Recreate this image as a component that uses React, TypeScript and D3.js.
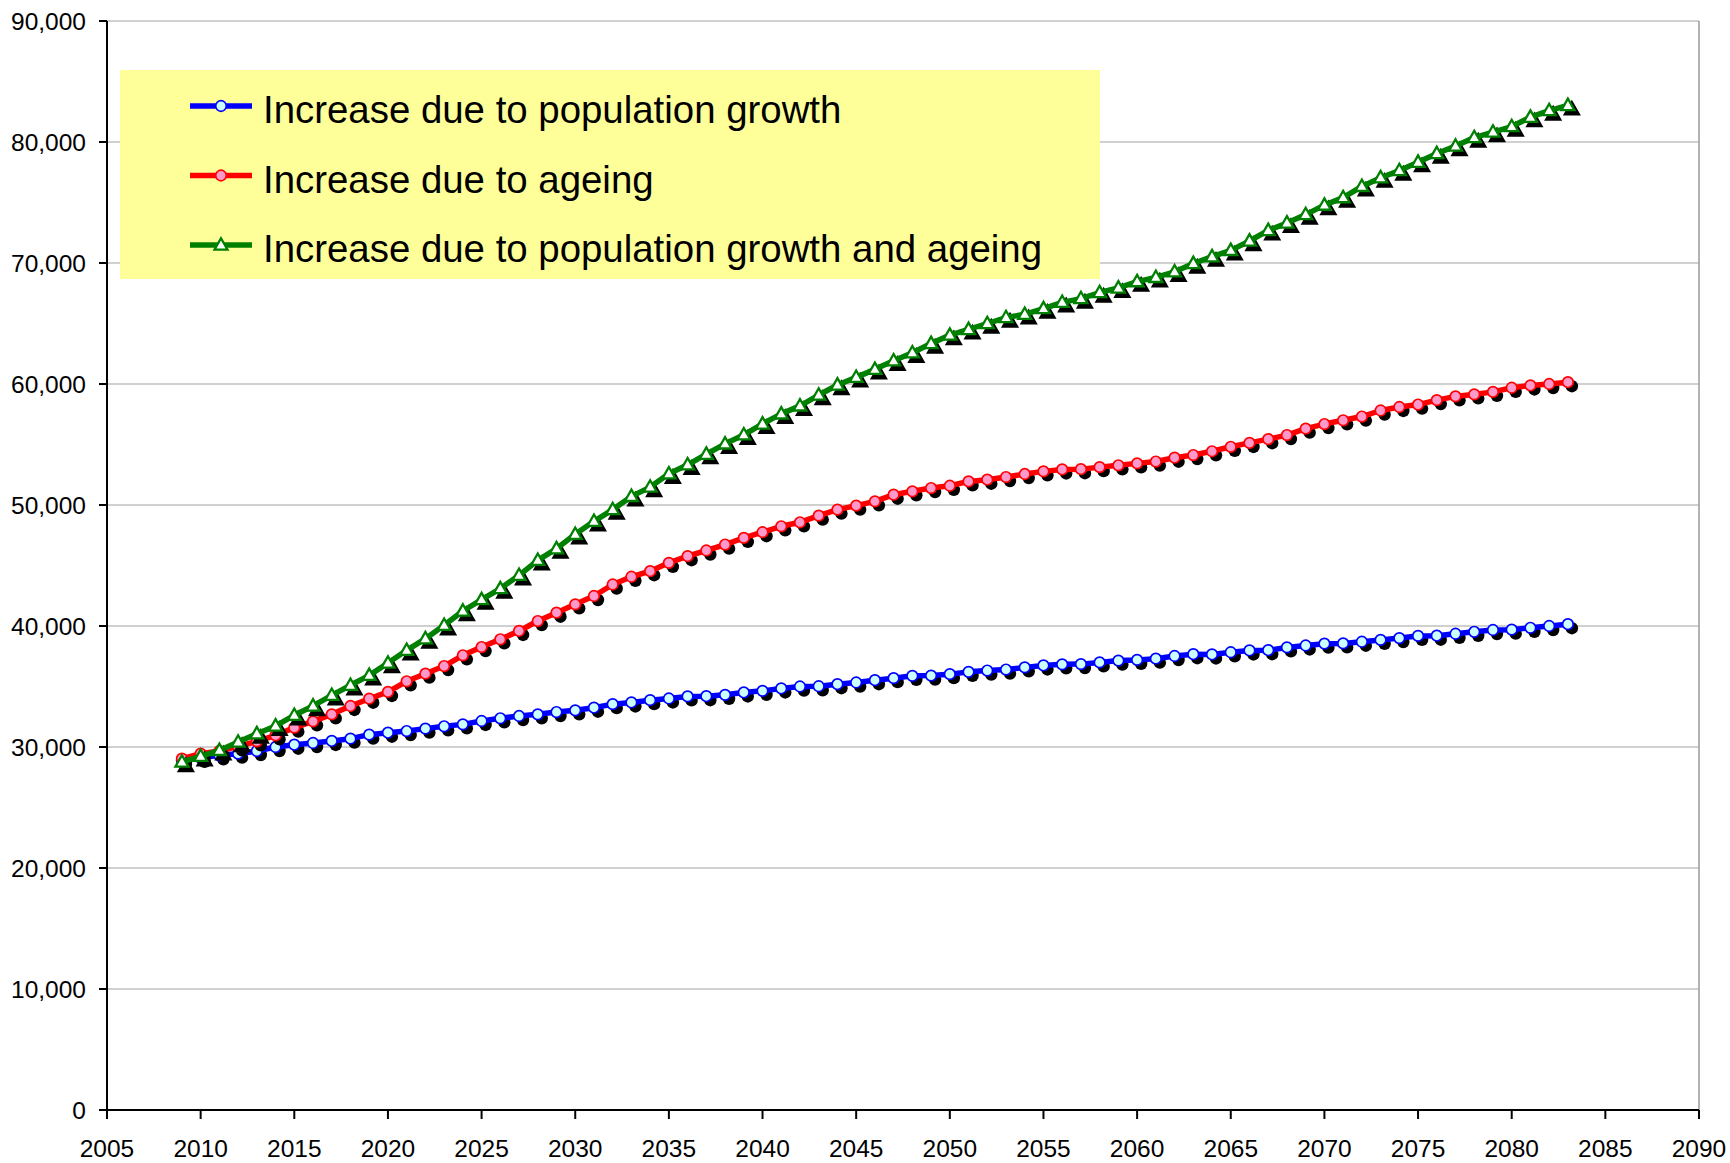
import React from "react";
import * as d3 from "d3";

const startYear = 2009;

const popGrowth = [
  28900, 29100, 29310, 29450, 29670, 30000, 30190, 30330, 30500, 30690,
  31020, 31180, 31320, 31520, 31710, 31870, 32150, 32370, 32560, 32700,
  32890, 33030, 33250, 33540, 33680, 33870, 34010, 34180, 34200, 34310,
  34510, 34640, 34840, 35000, 35020, 35190, 35330, 35520, 35690, 35880,
  35900, 36020, 36210, 36320, 36400, 36580, 36740, 36830, 36850, 36990,
  37140, 37200, 37300, 37520, 37670, 37650, 37830, 37980, 38000, 38230,
  38390, 38540, 38560, 38700, 38850, 39000, 39180, 39200, 39360, 39520,
  39670, 39700, 39850, 40000, 40150,
];

const ageing = [
  29040, 29450, 29670, 30050, 30470, 30960, 31600, 32120, 32700, 33390,
  33990, 34550, 35430, 36060, 36690, 37580, 38260, 38900, 39590, 40410,
  41100, 41790, 42480, 43430, 44070, 44530, 45220, 45770, 46240, 46730,
  47280, 47750, 48240, 48570, 49120, 49620, 49950, 50300, 50850, 51130,
  51400, 51590, 51950, 52090, 52310, 52560, 52780, 52940, 52960, 53130,
  53280, 53440, 53590, 53910, 54130, 54440, 54810, 55130, 55440, 55780,
  56310, 56690, 57000, 57310, 57810, 58100, 58300, 58670, 58980, 59140,
  59350, 59690, 59880, 60000, 60150,
];

const growthAndAgeing = [
  28760, 29230, 29720, 30410, 31100, 31740, 32620, 33390, 34270, 35100,
  35920, 36940, 37990, 38950, 40060, 41240, 42180, 43090, 44190, 45430,
  46390, 47580, 48650, 49620, 50710, 51480, 52580, 53320, 54200, 55050,
  55800, 56700, 57530, 58190, 59090, 59920, 60550, 61210, 61920, 62580,
  63350, 64040, 64510, 65000, 65490, 65760, 66230, 66750, 67060, 67560,
  67940, 68460, 68810, 69270, 69960, 70520, 71040, 71820, 72690, 73310,
  74000, 74780, 75400, 76330, 77050, 77640, 78330, 79050, 79660, 80370,
  80820, 81280, 82050, 82600, 83020,
];

const seriesNames = [
  "Increase due to population growth",
  "Increase due to ageing",
  "Increase due to population growth and ageing",
];

const xTicks = [2005, 2010, 2015, 2020, 2025, 2030, 2035, 2040, 2045, 2050, 2055, 2060, 2065, 2070, 2075, 2080, 2085, 2090];
const yTicks = [0, 10000, 20000, 30000, 40000, 50000, 60000, 70000, 80000, 90000];

const FONT = "'Liberation Sans', Arial, Helvetica, sans-serif";

type Style = { line: string; fill: string; marker: "circle" | "triangle" };
const styles: Style[] = [
  { line: "#0000FF", fill: "#CCFFFF", marker: "circle" },
  { line: "#FF0000", fill: "#FF99CC", marker: "circle" },
  { line: "#008000", fill: "#FFFFFF", marker: "triangle" },
];

const triPath = "M0,-6.8L6.5,4.6L-6.5,4.6Z";

function Marker({ cx, cy, s, shadow }: { cx: number; cy: number; s: Style; shadow?: boolean }) {
  if (s.marker === "circle") {
    return shadow ? (
      <circle cx={cx} cy={cy} r={6.2} fill="#000" />
    ) : (
      <circle cx={cx} cy={cy} r={5.3} fill={s.fill} stroke={s.line} strokeWidth={1.7} />
    );
  }
  return shadow ? (
    <path d={triPath} transform={`translate(${cx},${cy}) scale(1.1)`} fill="#000" stroke="#000" strokeWidth={2} />
  ) : (
    <path d={triPath} transform={`translate(${cx},${cy})`} fill={s.fill} stroke={s.line} strokeWidth={2.3} />
  );
}

export default function App() {
  const W = 1730;
  const H = 1163;
  const x = d3.scaleLinear().domain([2005, 2090]).range([107, 1699]);
  const y = d3.scaleLinear().domain([0, 90000]).range([1110, 21]);
  const data = [popGrowth, ageing, growthAndAgeing];
  const line = d3
    .line<number>()
    .x((_, i) => x(startYear + i))
    .y((d) => y(d));

  const [x0, x1] = x.range();
  const [yb, yt] = y.range();
  const sh = 4;

  return (
    <div style={{ position: "absolute", left: 0, top: 0 }}>
      <svg width={W} height={H} style={{ display: "block", background: "#fff" }}>
        {yTicks.filter((t) => t > 0).map((t) => (
          <line key={t} x1={x0} x2={x1} y1={y(t)} y2={y(t)} stroke="#C0C0C0" strokeWidth={1.6} />
        ))}
        <line x1={x1} x2={x1} y1={yt} y2={yb} stroke="#A0A0A0" strokeWidth={1.6} />

        <rect x={120} y={70} width={980} height={209} fill="#FFFF99" />
        {seriesNames.map((name, i) => {
          const ly = 106 + i * 69.5;
          const s = styles[i];
          return (
            <g key={name}>
              <line x1={190} x2={252} y1={ly} y2={ly} stroke={s.line} strokeWidth={5.5} />
              <Marker cx={221} cy={ly} s={s} />
              <text x={263} y={ly + 17} fontFamily={FONT} fontSize={38.4} fill="#000">
                {name}
              </text>
            </g>
          );
        })}

        {data.map((d, si) => {
          const s = styles[si];
          return (
            <g key={si}>
              {d.map((v, i) => (
                <Marker key={"s" + i} cx={x(startYear + i) + sh} cy={y(v) + sh} s={s} shadow />
              ))}
              <path d={line(d) || ""} fill="none" stroke={s.line} strokeWidth={5.5} strokeLinejoin="round" />
              {d.map((v, i) => (
                <Marker key={"m" + i} cx={x(startYear + i)} cy={y(v)} s={s} />
              ))}
            </g>
          );
        })}

        <line x1={x0} x2={x0} y1={yt} y2={yb} stroke="#000" strokeWidth={2} />
        <line x1={x0} x2={x1} y1={yb} y2={yb} stroke="#000" strokeWidth={2} />
        {yTicks.map((t) => (
          <g key={t}>
            <line x1={x0 - 8} x2={x0} y1={y(t)} y2={y(t)} stroke="#000" strokeWidth={2} />
            <text x={86} y={y(t)} dy="0.35em" textAnchor="end" fontFamily={FONT} fontSize={24.5} fill="#000">
              {d3.format(",")(t)}
            </text>
          </g>
        ))}
        {xTicks.map((t) => (
          <g key={t}>
            <line x1={x(t)} x2={x(t)} y1={yb} y2={yb + 9} stroke="#000" strokeWidth={2} />
            <text x={x(t)} y={1157} textAnchor="middle" fontFamily={FONT} fontSize={24.5} fill="#000">
              {t}
            </text>
          </g>
        ))}
      </svg>
    </div>
  );
}
